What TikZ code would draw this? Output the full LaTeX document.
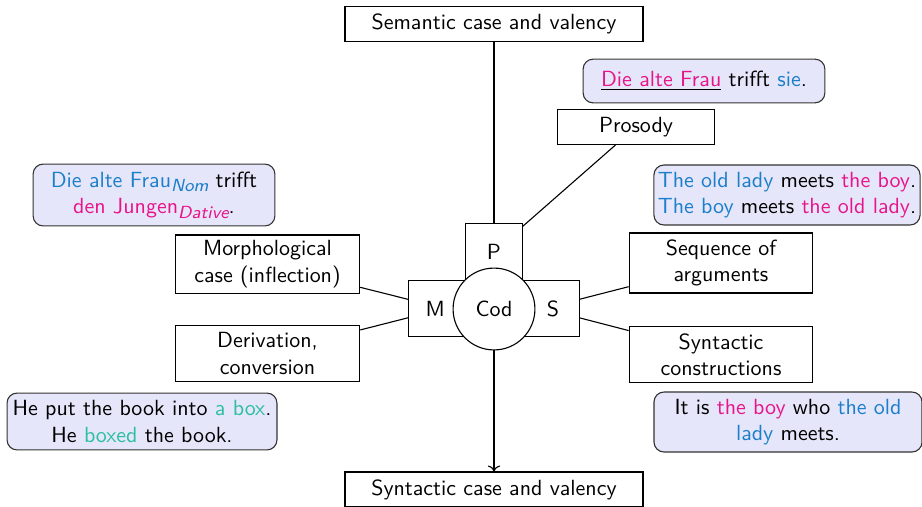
\documentclass[tikz,border=0pt]{standalone}
\usepackage{fontspec}
\usepackage{xcolor}
\usepackage{tikz}
\usetikzlibrary{arrows.meta,positioning,shapes.geometric}
\definecolor{ExBlue}{HTML}{1B7FC9}
\definecolor{ExPink}{HTML}{E6158A}
\definecolor{ExTeal}{HTML}{2EBFA0}
\definecolor{ExFill}{HTML}{E6E6FA}
\definecolor{ExLine}{HTML}{333333}
\newcommand{\casesub}[1]{\raisebox{-0.45ex}{\footnotesize\itshape #1}}

\begin{document}
\begin{tikzpicture}[
    x=0.016cm, y=-0.016cm,
    font=\sffamily, line width=0.5pt,
    levelbox/.style={draw, align=center, minimum width=4.77cm, minimum height=0.56cm, inner sep=1pt},
    factor/.style={draw, align=center, minimum width=2.95cm, minimum height=0.93cm, inner sep=1pt},
    part/.style={draw, fill=white, minimum height=0.91cm, inner sep=1pt},
    example/.style={draw=ExLine, fill=ExFill, rounded corners=1.6mm, align=center, inner sep=1pt},
    arr/.style={->}
]
\useasboundingbox (0,0) rectangle (922,506);
% levels
\node[levelbox] (sem) at (494,24) {Semantic case and valency};
\node[levelbox] (syn) at (494,489.5) {Syntactic case and valency};
% coding means
\node[part, minimum width=1.14cm] (M) at (444.5,308.5) {M\hspace*{0.3cm}};
\node[part, minimum width=1.14cm] (S) at (543.5,308.5) {\hspace*{0.3cm}S};
\node[part, minimum width=0.9cm] (P) at (494,251.5) {P};
\node[circle, draw, fill=white, minimum size=1.31cm, inner sep=0pt] (cod) at (494,309) {Cod};
% factors
\node[factor, minimum width=2.51cm, minimum height=0.56cm] (prosody) at (636,127) {Prosody};
\node[factor] (morph) at (267.5,264) {Morphological\\case (inflection)};
\node[factor, minimum height=0.91cm] (deriv) at (267.5,353.5) {Derivation,\\conversion};
\node[factor, minimum width=2.94cm, minimum height=0.96cm] (order) at (721,263) {Sequence of\\arguments};
\node[factor, minimum width=2.94cm, minimum height=0.91cm] (constr) at (721,354.5) {Syntactic\\constructions};
% examples
\node[example, minimum width=3.87cm, minimum height=0.70cm] (exprosody) at (704,81)
  {\underline{\textcolor{ExPink}{Die alte Frau}} trifft \textcolor{ExBlue}{sie}.};
\node[example, minimum width=4.26cm, minimum height=0.96cm] (exorder) at (787,195)
  {\textcolor{ExBlue}{The old lady} meets \textcolor{ExPink}{the boy}.\\
   \textcolor{ExBlue}{The boy} meets \textcolor{ExPink}{the old lady}.};
\node[example, minimum width=4.29cm, minimum height=0.96cm] (exconstr) at (788,422)
  {It is \textcolor{ExPink}{the boy} who \textcolor{ExBlue}{the old}\\
   \textcolor{ExBlue}{lady} meets.};
\node[example, minimum width=3.87cm, minimum height=0.99cm] (exmorph) at (154,195)
  {\textcolor{ExBlue}{Die alte Frau\casesub{Nom}} trifft\\
   \textcolor{ExPink}{den Jungen\casesub{Dative}}.};
\node[example, minimum width=4.32cm, minimum height=0.91cm] (exderiv) at (142,421.5)
  {He put the book into \textcolor{ExTeal}{a box}.\\
   He \textcolor{ExTeal}{boxed} the book.};
% connectors
\draw (sem) -- (P);
\draw[arr] (cod) -- (syn);
\draw (prosody) -- (P);
\draw (morph) -- (M);
\draw (deriv) -- (M);
\draw (order) -- (S);
\draw (constr) -- (S);
\end{tikzpicture}
\end{document}
